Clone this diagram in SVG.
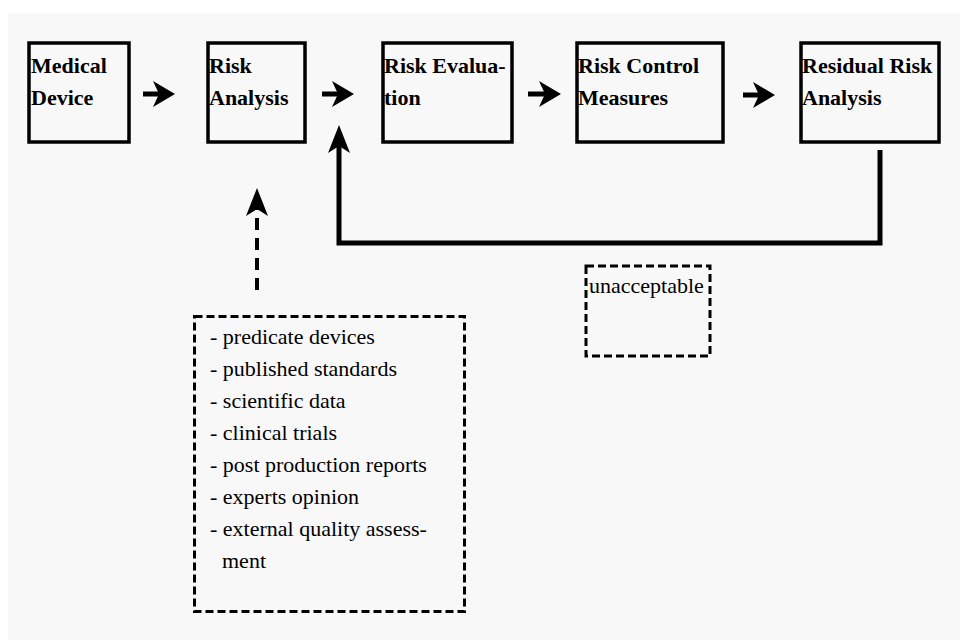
<svg xmlns="http://www.w3.org/2000/svg" width="960" height="640" viewBox="0 0 960 640">
  <defs>
    <style>
      .box { fill: none; stroke: #000; stroke-width: 3.5; }
      .dbox { fill: none; stroke: #000; stroke-width: 3; stroke-dasharray: 8 4; }
      .title { font-family: "Liberation Serif", "Times New Roman", serif; font-weight: bold; font-size: 22px; fill: #000; }
      .note { font-family: "Liberation Serif", "Times New Roman", serif; font-size: 22px; fill: #000; }
      .flow { fill: none; stroke: #000; stroke-width: 5; }
      .fb { fill: none; stroke: #000; stroke-width: 5; stroke-linejoin: miter; }
      .src { fill: none; stroke: #000; stroke-width: 4; stroke-dasharray: 12 8; }
    </style>
    <marker id="head" markerUnits="userSpaceOnUse" viewBox="0 0 22 26" refX="6" refY="13" markerWidth="22" markerHeight="26" orient="auto">
      <path d="M0,0 L22,13 L0,26 L6,13 Z" fill="#000"/>
    </marker>
    <marker id="head2" markerUnits="userSpaceOnUse" viewBox="0 0 28 22" refX="7" refY="11" markerWidth="28" markerHeight="22" orient="auto">
      <path d="M0,0 L28,11 L0,22 L7,11 Z" fill="#000"/>
    </marker>
  </defs>

  <!-- page -->
  <rect x="0" y="0" width="960" height="640" fill="#ffffff"/>
  <rect x="8" y="13" width="952" height="627" fill="#f8f8f8"/>

  <!-- process steps -->
  <g id="medical-device">
    <rect class="box" x="29" y="43" width="100" height="99"/>
    <text class="title" x="31" y="73">Medical</text>
    <text class="title" x="31" y="105">Device</text>
  </g>
  <g id="risk-analysis">
    <rect class="box" x="208" y="43" width="97" height="99"/>
    <text class="title" x="209" y="73">Risk</text>
    <text class="title" x="209" y="105">Analysis</text>
  </g>
  <g id="risk-evaluation">
    <rect class="box" x="383" y="43" width="129" height="99"/>
    <text class="title" x="384" y="73">Risk Evalua-</text>
    <text class="title" x="384" y="105">tion</text>
  </g>
  <g id="risk-control">
    <rect class="box" x="577" y="43" width="146" height="99"/>
    <text class="title" x="578" y="73">Risk Control</text>
    <text class="title" x="578" y="105">Measures</text>
  </g>
  <g id="residual-risk">
    <rect class="box" x="801" y="43" width="138" height="99"/>
    <text class="title" x="802" y="73">Residual Risk</text>
    <text class="title" x="802" y="105">Analysis</text>
  </g>

  <!-- information sources -->
  <g id="sources">
    <rect class="dbox" x="194.5" y="316.5" width="270" height="295"/>
    <text class="note" x="210" y="344">- predicate devices</text>
    <text class="note" x="210" y="376">- published standards</text>
    <text class="note" x="210" y="408">- scientific data</text>
    <text class="note" x="210" y="440">- clinical trials</text>
    <text class="note" x="210" y="472">- post production reports</text>
    <text class="note" x="210" y="504">- experts opinion</text>
    <text class="note" x="210" y="536">- external quality assess-</text>
    <text class="note" x="222" y="568">ment</text>
  </g>

  <!-- feedback condition -->
  <g id="unacceptable">
    <rect class="dbox" x="586" y="266" width="124" height="90"/>
    <text class="note" x="589" y="293">unacceptable</text>
  </g>

  <!-- connectors -->
  <g id="connectors">
    <line class="flow" x1="143" y1="94" x2="159" y2="94" marker-end="url(#head)"/>
    <line class="flow" x1="322" y1="94" x2="338" y2="94" marker-end="url(#head)"/>
    <line class="flow" x1="528" y1="94" x2="545" y2="94" marker-end="url(#head)"/>
    <line class="flow" x1="743" y1="95" x2="759" y2="95" marker-end="url(#head)"/>
    <path class="fb" d="M880,150 V243 H339 V146" marker-end="url(#head2)"/>
    <line class="src" x1="257" y1="290" x2="257" y2="209" marker-end="url(#head2)"/>
  </g>
</svg>
